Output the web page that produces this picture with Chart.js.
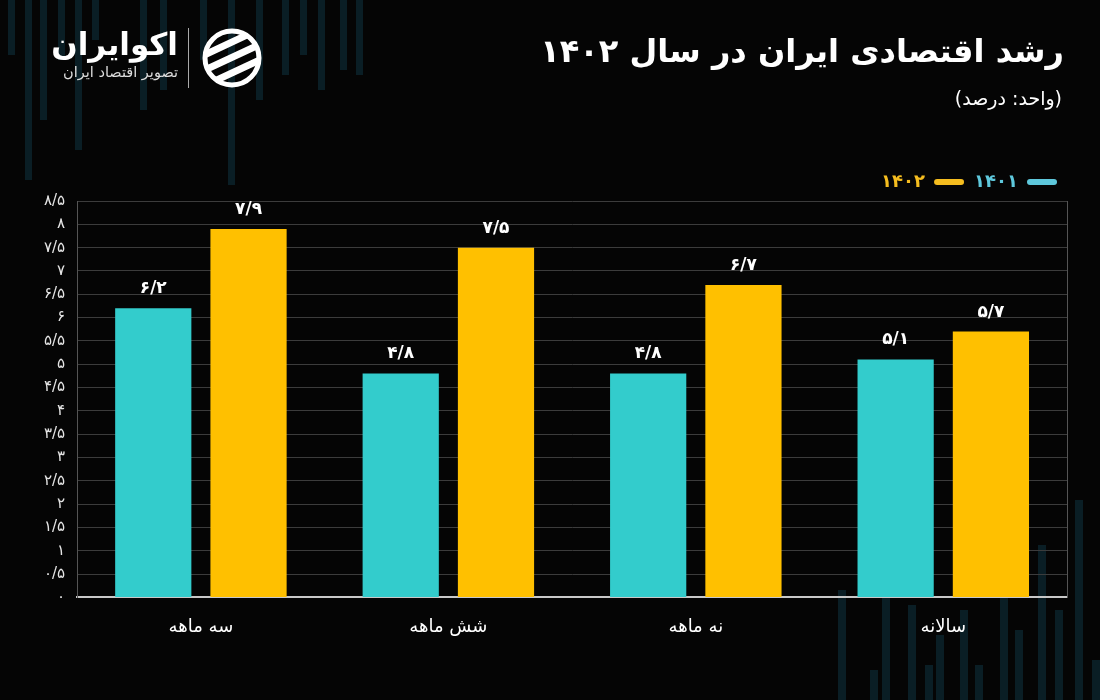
<!DOCTYPE html>
<html>
<head>
<meta charset="utf-8">
<script src="https://cdn.jsdelivr.net/npm/chart.js@4"></script>
<style>
  body { margin: 0; background: #050505; }
  #wrap { position: relative; width: 1100px; height: 700px; overflow: hidden; font-family: "DejaVu Sans", sans-serif; }
  #chart { position: absolute; left: 0; top: 0; }
  .title { position: absolute; right: 36px; top: 32px; color: #fff; font-size: 32px; font-weight: bold; direction: rtl; }
  .sub { position: absolute; right: 38px; top: 87px; color: #fff; font-size: 19px; direction: rtl; }
  .brand { position: absolute; left: 36px; top: 24px; color: #fff; direction: rtl; text-align: right; width: 142px; }
  .brand b { display: block; font-size: 31px; line-height: 40px; }
  .brand span { display: block; font-size: 14.5px; color: #ddd; }
  .sep { position: absolute; left: 188px; top: 28px; width: 1px; height: 60px; background: #aaa; }
  .icon { position: absolute; left: 200px; top: 26px; }
</style>
</head>
<body>
<div id="wrap">
  <canvas id="chart" width="1100" height="700"></canvas>
  <div class="brand"><b>اکوایران</b><span>تصویر اقتصاد ایران</span></div>
  <div class="sep"></div>
  <svg class="icon" width="64" height="64" viewBox="0 0 64 64">
    <defs><clipPath id="c"><circle cx="32" cy="32" r="29"/></clipPath></defs>
    <circle cx="32" cy="32" r="27" fill="none" stroke="#fff" stroke-width="5"/>
    <g clip-path="url(#c)" fill="#fff">
      <rect x="-5" y="14" width="80" height="7" rx="3.5" transform="rotate(-25 32 32)"/>
      <rect x="-5" y="28" width="80" height="7" rx="3.5" transform="rotate(-25 32 32)"/>
      <rect x="-5" y="42" width="80" height="7" rx="3.5" transform="rotate(-25 32 32)"/>
    </g>
  </svg>
  <div class="title">رشد اقتصادی ایران در سال ۱۴۰۲</div>
  <div class="sub">(واحد: درصد)</div>
</div>
<script>
const categories = ["سه ماهه", "شش ماهه", "نه ماهه", "سالانه"];
const seriesNames = ["۱۴۰۱", "۱۴۰۲"];
const growth1401 = [6.2, 4.8, 4.8, 5.1];
const growth1402 = [7.9, 7.5, 6.7, 5.7];
const barColors = ["#33cccc", "#ffc000"];
const legendColors = ["#5ec8dc", "#f5bd1f"];

const faDigits = "۰۱۲۳۴۵۶۷۸۹";
function fa(v) {
  return String(Number(v.toFixed(1))).replace(".", "/").replace(/\d/g, d => faDigits[d]);
}

// decorative candlestick stripes in the background
const topStripes = [[8,55],[25,180],[40,120],[58,60],[75,150],[92,40],[140,110],[160,90],[200,60],[228,185],[256,100],[282,75],[300,55],[318,90],[340,70],[356,75]];
const bottomStripes = [[838,110],[870,30],[882,170],[908,95],[925,35],[936,65],[960,90],[975,35],[1000,200],[1015,70],[1038,155],[1055,90],[1075,200],[1092,40]];
const bgStripes = {
  id: "bgStripes",
  beforeDraw(chart) {
    const ctx = chart.ctx;
    ctx.save();
    ctx.fillStyle = "#0a1e25";
    topStripes.forEach(([x, h]) => ctx.fillRect(x, 0, 7, h));
    bottomStripes.forEach(([x, h]) => ctx.fillRect(x, 700 - h, 8, h));
    ctx.restore();
  }
};

const valueLabels = {
  id: "valueLabels",
  afterDatasetsDraw(chart) {
    const ctx = chart.ctx;
    ctx.save();
    ctx.fillStyle = "#fff";
    ctx.font = "bold 17px 'DejaVu Sans'";
    ctx.textAlign = "center";
    ctx.textBaseline = "bottom";
    chart.data.datasets.forEach((ds, i) => {
      chart.getDatasetMeta(i).data.forEach((bar, j) => {
        ctx.fillText(fa(ds.data[j]), bar.x, bar.y - 11);
      });
    });
    ctx.restore();
  }
};

new Chart(document.getElementById("chart"), {
  type: "bar",
  data: {
    labels: categories,
    datasets: [
      { label: seriesNames[0], data: growth1401, backgroundColor: barColors[0] },
      { label: seriesNames[1], data: growth1402, backgroundColor: barColors[1] },
    ],
  },
  options: {
    responsive: false,
    animation: false,
    categoryPercentage: 0.77,
    barPercentage: 0.8,
    layout: { padding: { top: 163, right: 33, left: 32, bottom: 51 } },
    plugins: {
      tooltip: { enabled: false },
      legend: {
        position: "top",
        align: "start",
        rtl: true,
        labels: {
          boxWidth: 30,
          boxHeight: 6,
          useBorderRadius: true,
          borderRadius: 3,
          padding: 10,
          font: { size: 18, family: "DejaVu Sans", weight: "bold" },
          generateLabels(chart) {
            return chart.data.datasets.map((ds, i) => ({
              text: ds.label,
              fillStyle: legendColors[i],
              strokeStyle: legendColors[i],
              lineWidth: 0,
              fontColor: legendColors[i],
              borderRadius: 3,
              datasetIndex: i,
            }));
          },
        },
      },
    },
    scales: {
      x: {
        grid: { display: false },
        border: { color: "#c8c8c8", width: 2 },
        ticks: { color: "#fff", font: { size: 18, family: "DejaVu Sans" }, padding: 11 },
      },
      y: {
        min: 0,
        max: 8.5,
        ticks: {
          stepSize: 0.5,
          color: "#e6e6e6",
          padding: 12,
          font: { size: 15, family: "DejaVu Sans" },
          callback: v => fa(v),
        },
        grid: { color: "#3c3c3c", drawTicks: false },
        border: { color: "#555" },
      },
      y2: {
        position: "right",
        min: 0,
        max: 8.5,
        ticks: { display: false },
        grid: { drawOnChartArea: false, drawTicks: false },
        border: { color: "#555" },
      },
    },
  },
  plugins: [bgStripes, valueLabels],
});
</script>
</body>
</html>
